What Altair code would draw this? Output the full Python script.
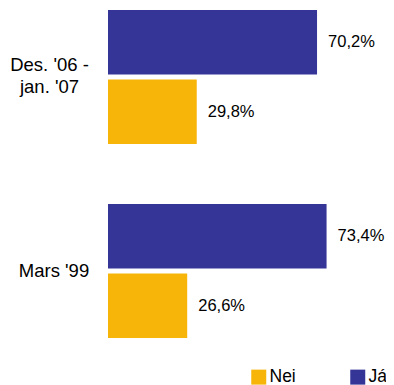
import altair as alt
import pandas as pd

categories = ["Des. '06 -|jan. '07", "Mars '99"]
series = ["Já", "Nei"]
ja_values = [70.2, 73.4]
nei_values = [29.8, 26.6]
colors = ["#F7B50A", "#353597"]  # Nei, Já

rows = []
for c, j, n in zip(categories, ja_values, nei_values):
    rows.append({"cat": c, "serie": "Já", "value": j})
    rows.append({"cat": c, "serie": "Nei", "value": n})
df = pd.DataFrame(rows)
df["label"] = df["value"].map(lambda v: f"{v:.1f}".replace(".", ",") + "%")

FONT = "Liberation Sans"

y_enc = alt.Y(
    "cat:N",
    sort=categories,
    title=None,
    scale=alt.Scale(paddingInner=0.309, paddingOuter=0),
    axis=alt.Axis(
        domain=False,
        ticks=False,
        labelAlign="center",
        labelBaseline="middle",
        labelFont=FONT,
        labelFontSize=18.5,
        labelColor="#000000",
        labelLineHeight=22,
        labelExpr="split(datum.label, '|')",
        labelPadding={"condition": {"test": "indexof(datum.value, 'Mars') >= 0", "value": 54.5}, "value": 59},
        labelOffset={"condition": {"test": "indexof(datum.value, 'Mars') >= 0", "value": 0}, "value": -12},
    ),
)
yoff_enc = alt.YOffset("serie:N", sort=series, scale=alt.Scale(paddingInner=0.07, paddingOuter=0))
x_enc = alt.X("value:Q", scale=alt.Scale(domain=[0, 90]), axis=None)

bars = alt.Chart(df).mark_bar().encode(
    y=y_enc,
    yOffset=yoff_enc,
    x=x_enc,
    color=alt.Color(
        "serie:N",
        scale=alt.Scale(domain=["Nei", "Já"], range=colors),
        legend=alt.Legend(
            title=None,
            orient="none",
            direction="horizontal",
            legendX=142,
            legendY=358,
            symbolType="square",
            symbolSize=225,
            symbolStrokeWidth=0,
            labelFont=FONT,
            labelFontSize=17.5,
            labelColor="#000000",
            labelOffset=2,
            columnPadding=53,
            padding=0,
        ),
    ),
)

texts = alt.Chart(df).mark_text(
    align="left", baseline="middle", dx=11, font=FONT, fontSize=16.5, color="#000000"
).encode(
    y=alt.Y("cat:N", sort=categories),
    yOffset=yoff_enc,
    x=x_enc,
    text="label:N",
)

chart = (
    alt.layer(bars, texts)
    .properties(
        width=268,
        height=328,
        autosize=alt.AutoSizeParams(type="none"),
        padding={"left": 100, "top": 2, "right": 10, "bottom": 47},
    )
    .configure_view(stroke=None)
)

chart.save("out.html", embed_options={"renderer": "svg", "actions": False})
